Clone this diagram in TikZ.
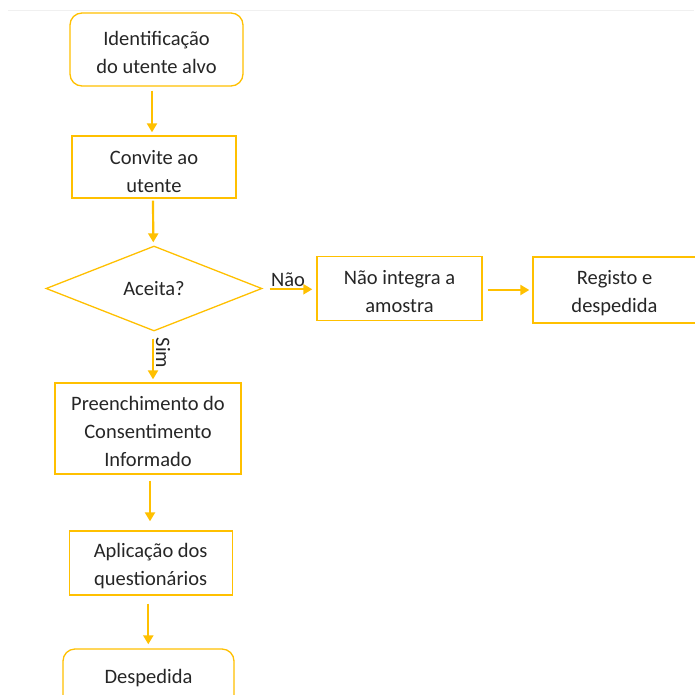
\documentclass[tikz,border=0pt]{standalone}
\usepackage{fontspec}
\setmainfont{Carlito}
\usetikzlibrary{shapes.geometric,arrows.meta}
\definecolor{gold}{HTML}{FFC000}
\definecolor{txt}{HTML}{262626}
\definecolor{faint}{HTML}{F0F0F0}
\newcommand{\toppad}{\rule{0pt}{20pt}}
\begin{document}
\begin{tikzpicture}[x=1pt,y=-1pt,
  txtfont/.style={font=\fontsize{20.5}{28}\selectfont, text=txt},
  basebox/.style={draw=gold, line width=1.3pt, fill=white, align=center, txtfont, inner sep=0pt},
  box/.style={basebox, rectangle},
  rbox/.style={box, rounded corners=12pt},
  decision/.style={basebox, diamond},
  arr/.style={draw=gold, line width=2.2pt, -{Triangle[length=9pt,width=10pt]}},
  lbl/.style={txtfont, inner sep=0pt}]
\useasboundingbox (0,0) rectangle (694,695);
\draw[faint, line width=1pt] (8,11) -- (694,11);

\node[rbox, minimum width=173pt, minimum height=73pt] (id) at (156.5,49.5) {\toppad Identificação\\do utente alvo};
\node[box, minimum width=164pt, minimum height=62pt] (conv) at (154,167) {\rule{0pt}{24pt}Convite ao\\utente};
\node[decision, minimum width=216pt, minimum height=85pt] (dec) at (154,288.5) {Aceita?};
\node[box, minimum width=165pt, minimum height=64pt] (nao) at (399.5,288.5) {\toppad Não integra a\\amostra};
\node[box, minimum width=163pt, minimum height=66pt] (reg) at (614.5,290) {\toppad Registo e\\despedida};
\node[box, minimum width=186pt, minimum height=91pt] (pre) at (148,428.5) {\toppad Preenchimento do\\Consentimento\\Informado};
\node[box, minimum width=163pt, minimum height=64pt] (apl) at (150.7,563) {\toppad Aplicação dos\\questionários};
\node[rbox, minimum width=171pt, minimum height=58pt] (desp) at (148.5,678) {Despedida};

\draw[arr, shorten <=4pt, shorten >=3pt] ([xshift=-4.5pt]id.south) -- ([xshift=-2pt]conv.north);
\draw[arr, shorten <=2pt, shorten >=3pt] ([xshift=-1pt]conv.south) -- ([xshift=-0.7pt]dec.north);
\draw[arr, shorten <=7pt, shorten >=4pt] ([yshift=-0.8pt]dec.east) -- ([yshift=-0.8pt]nao.west);
\draw[arr, shorten <=5pt, shorten >=3pt] ([yshift=-1.5pt]nao.east) -- (reg.west);
\draw[arr, shorten <=7pt, shorten >=3pt] ([xshift=-1pt]dec.south) -- ([xshift=5pt]pre.north);
\draw[arr, shorten <=6pt, shorten >=9pt] ([xshift=2pt]pre.south) -- ([xshift=-0.7pt]apl.north);
\draw[arr, shorten <=8pt, shorten >=4pt] ([xshift=-2.4pt]apl.south) -- ([xshift=-0.2pt]desp.north);

\node[lbl] (lnao) at (288,280) {Não};
\node[lbl, rotate=-90] (lsim) at (163,353) {Sim};
\end{tikzpicture}
\end{document}
